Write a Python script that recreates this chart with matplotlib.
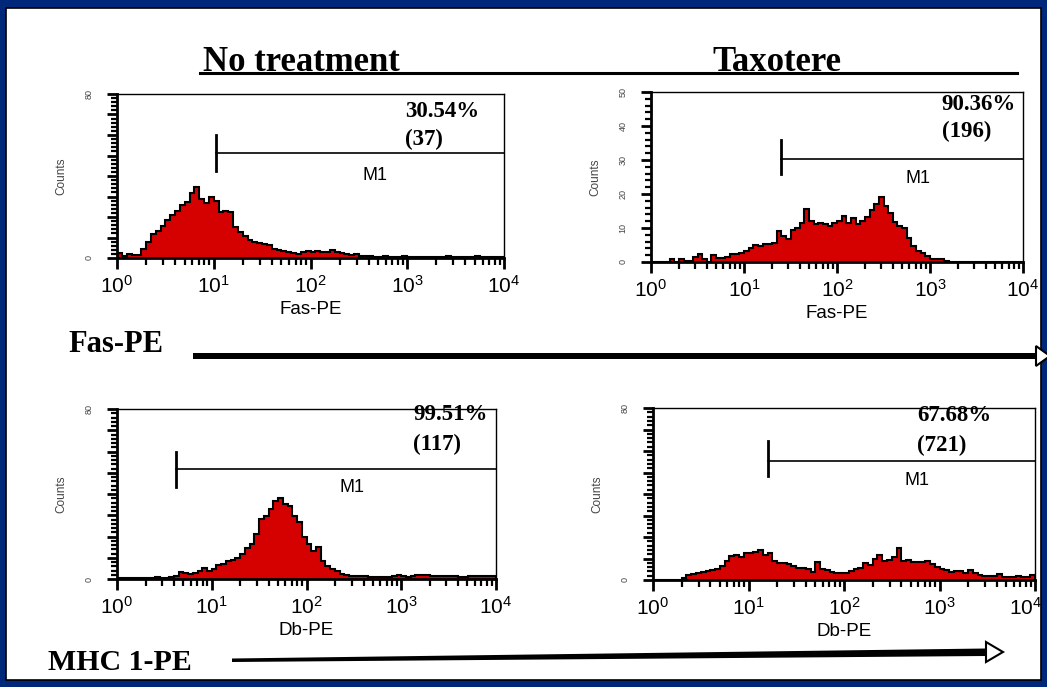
import numpy as np
import matplotlib
matplotlib.use("Agg")
import matplotlib.pyplot as plt
import matplotlib.transforms as mtransforms
from matplotlib.patches import Rectangle, Polygon
from matplotlib.lines import Line2D
from matplotlib.ticker import MultipleLocator, LogLocator, NullFormatter

plt.rcParams['font.family'] = ['Liberation Sans', 'DejaVu Sans']

# ---------------- data (counts per 0.05-decade channel, 10^0 .. 10^4) ----------------
fas_untreated = [2.4, 0.8, 2.0, 1.5, 1.5, 4.4, 8.0, 11.7, 13.3, 15.8,
                 18.7, 21.0, 23.0, 25.9, 27.5, 31.7, 34.5, 29.0, 26.8, 29.6,
                 28.0, 22.3, 22.8, 22.3, 15.0, 12.5, 10.6, 9.0, 8.0, 7.3,
                 6.8, 6.3, 4.4, 3.9, 3.6, 3.1, 2.4, 2.0, 3.1, 3.6,
                 2.8, 3.3, 2.8, 3.1, 4.0, 3.1, 2.4, 2.1, 1.6, 1.8,
                 1.1, 0.8, 0.8, 0.6, 0.5, 0.8, 0.4, 0.4, 0.4, 0.8,
                 0.4, 0.4, 0.4, 0.4, 0.4, 0.4, 0.4, 0.4, 0.8, 0.4,
                 0.4, 0.4, 0.4, 0.4, 0.8, 0.4, 0.4, 0.4, 0.4, 0.4]
fas_taxotere = [0.0, 0.0, 0.0, 0.0, 0.8, 0.0, 1.0, 0.3, 0.3, 1.5,
                2.3, 0.8, 0.1, 2.0, 1.3, 1.3, 1.5, 2.3, 2.3, 2.5,
                3.2, 4.0, 5.0, 4.7, 5.2, 5.2, 5.7, 9.1, 7.6, 6.7,
                9.3, 10.1, 11.6, 15.5, 12.0, 11.1, 11.6, 11.1, 10.6, 11.6,
                12.0, 13.5, 11.6, 13.0, 11.1, 12.0, 13.2, 15.2, 17.2, 19.2,
                16.5, 14.5, 11.9, 10.6, 10.1, 7.2, 4.7, 3.2, 2.5, 1.8,
                1.0, 0.8, 0.8, 0.3, 0.0, 0.0, 0.0, 0.0, 0.0, 0.0,
                0.0, 0.0, 0.0, 0.0, 0.0, 0.0, 0.0, 0.0, 0.0, 0.0]
mhc_untreated = [0.5, 0.5, 0.5, 0.5, 0.5, 0.5, 0.5, 0.5, 1.1, 0.3,
                 0.5, 1.1, 1.6, 3.1, 2.7, 2.4, 2.8, 3.9, 5.2, 3.9,
                 4.7, 6.7, 7.1, 8.3, 8.9, 9.7, 11.8, 14.6, 16.5, 21.2,
                 28.2, 29.8, 32.9, 36.9, 38.0, 35.3, 34.5, 29.8, 26.7, 19.6,
                 16.5, 13.3, 14.9, 8.6, 6.3, 4.7, 3.6, 2.4, 2.0, 1.6,
                 1.6, 1.6, 1.3, 1.1, 1.1, 1.1, 1.1, 1.1, 1.6, 2.0,
                 1.6, 1.1, 1.6, 2.0, 2.0, 2.0, 1.6, 1.3, 1.3, 1.3,
                 1.3, 1.3, 1.1, 1.1, 1.6, 1.6, 1.3, 1.6, 1.6, 1.6]
mhc_taxotere = [0.0, 0.0, 0.0, 0.0, 0.0, 0.0, 0.8, 2.3, 2.8, 3.4,
                3.9, 4.3, 4.7, 5.0, 6.5, 9.0, 11.2, 11.6, 10.9, 12.4,
                12.7, 13.2, 14.0, 11.6, 12.4, 9.0, 8.1, 7.8, 7.4, 6.5,
                5.4, 5.4, 5.0, 3.9, 8.5, 5.0, 4.7, 3.9, 3.1, 3.1,
                3.1, 4.3, 5.0, 5.4, 7.8, 7.0, 9.6, 11.6, 9.0, 9.3,
                10.5, 14.7, 9.0, 9.3, 8.5, 8.5, 8.5, 9.0, 7.4, 5.9,
                5.0, 4.7, 3.9, 4.3, 4.3, 3.4, 4.7, 3.4, 2.3, 1.9,
                1.9, 1.9, 2.8, 1.6, 1.6, 1.6, 1.9, 1.6, 1.2, 2.3]

gate_starts = [10.5, 25.0, 4.2, 15.9]
percents = ["30.54%", "90.36%", "99.51%", "67.68%"]
gate_counts = ["(37)", "(196)", "(117)", "(721)"]
x_labels = ["Fas-PE", "Fas-PE", "Db-PE", "Db-PE"]
y_maxes = [80, 50, 80, 80]
col_titles = ["No treatment", "Taxotere"]
row_labels = ["Fas-PE", "MHC 1-PE"]

# ---------------- figure ----------------
W, H = 1047, 687
fig = plt.figure(figsize=(W / 100, H / 100), dpi=100)
NAVY = '#00287a'
RED = '#d50000'

def fx(x):
    return x / W

def fy(y):
    return 1 - y / H

fig.patches.append(Rectangle((0, 0), 1, 1, transform=fig.transFigure,
                             facecolor=NAVY, edgecolor='none', zorder=-20))
fig.patches.append(Rectangle((fx(6), fy(680)), (1041 - 6) / W, (680 - 8) / H,
                             transform=fig.transFigure, facecolor='white',
                             edgecolor='black', linewidth=1.2, zorder=-19))

# axes rectangles in pixels: left, top, right, bottom
rects_px = [(117, 94, 504, 258), (651, 92, 1023, 262),
            (117, 409, 496, 579), (653, 408, 1035, 580)]
# layout positions for gate marker / texts (fraction of y range, log10 x)
gate_y = [0.64, 0.606, 0.647, 0.694]
bar_lo = [0.532, 0.516, 0.543, 0.605]
bar_hi = [0.75, 0.718, 0.749, 0.81]
m1_pos = [(2.67, 0.50), (2.87, 0.494), (2.48, 0.54), (2.76, 0.58)]
txt_x = [2.977, 3.126, 3.127, 2.768]
pct_y = [0.892, 0.924, 0.965, 0.959]
n_y = [0.72, 0.766, 0.789, 0.785]

edges = 10 ** (np.arange(81) * 0.05)
hists = [fas_untreated, fas_taxotere, mhc_untreated, mhc_taxotere]

for i, (l, t, r, b) in enumerate(rects_px):
    ax = fig.add_axes([fx(l), fy(b), (r - l) / W, (b - t) / H])
    ymax = y_maxes[i]
    ax.set_xscale('log')
    ax.set_xlim(1, 1e4)
    ax.set_ylim(0, ymax)
    ax.stairs(hists[i], edges, fill=True, color=RED, zorder=2)
    ax.stairs(hists[i], edges, color='black', linewidth=1.5, zorder=3)

    # gate marker
    g0 = gate_starts[i]
    ax.plot([g0, 1e4], [gate_y[i] * ymax] * 2, color='black', lw=1.2,
            clip_on=False, zorder=4)
    ax.plot([g0, g0], [bar_lo[i] * ymax, bar_hi[i] * ymax], color='black',
            lw=2.0, clip_on=False, zorder=4)
    ax.text(10 ** m1_pos[i][0], m1_pos[i][1] * ymax, "M1", fontsize=13,
            ha='center', va='center', zorder=5)
    ax.text(10 ** txt_x[i], pct_y[i] * ymax, percents[i], fontsize=16.5,
            fontweight='bold', family='Liberation Serif', ha='left',
            va='center', clip_on=False, zorder=6)
    ax.text(10 ** txt_x[i], n_y[i] * ymax, gate_counts[i], fontsize=16.5,
            fontweight='bold', family='Liberation Serif', ha='left',
            va='center', clip_on=False, zorder=6)

    # spines
    for s in ['top', 'right']:
        ax.spines[s].set_linewidth(1.0)
    for s in ['left', 'bottom']:
        ax.spines[s].set_linewidth(2.0)

    # x axis
    ax.xaxis.set_major_locator(LogLocator(base=10, numticks=10))
    ax.xaxis.set_minor_locator(LogLocator(base=10, subs=np.arange(2, 10), numticks=10))
    ax.xaxis.set_minor_formatter(NullFormatter())
    ax.tick_params(axis='x', which='major', length=8, width=2, labelsize=15, pad=4)
    ax.tick_params(axis='x', which='minor', length=5, width=1.6)
    ax.set_xlabel(x_labels[i], fontsize=13.5, labelpad=3)

    # y axis
    ax.yaxis.set_minor_locator(MultipleLocator(2))
    ticks = np.arange(0, ymax + 1, 10)
    if ymax == 50:
        labels = [str(int(v)) for v in ticks]
    else:
        labels = [str(int(v)) if v in (0, ymax) else '' for v in ticks]
    ax.set_yticks(ticks)
    ax.set_yticklabels(labels)
    ax.tick_params(axis='y', which='major', length=7, width=2, labelsize=6.5,
                   labelrotation=90, pad=10, labelcolor='#444444')
    ax.tick_params(axis='y', which='minor', length=4, width=1.6)
    for lab in ax.get_yticklabels():
        lab.set_va('center')
    ax.set_ylabel("Counts", fontsize=8.5, color='#444444', labelpad=12)

    # keep the right-most decade label of the rightmost panel inside the frame
    if r > 1030:
        fig.canvas.draw()
        shift = mtransforms.ScaledTranslation(-9 / 100, 0, fig.dpi_scale_trans)
        for tk in ax.xaxis.get_major_ticks():
            if abs(tk.get_loc() - 1e4) < 1:
                tk.label1.set_transform(tk.label1.get_transform() + shift)

# column titles with underline
fig.text(fx(203), fy(71), col_titles[0], fontsize=25, fontweight='bold',
         family='Liberation Serif', ha='left', va='baseline')
fig.text(fx(712), fy(71), col_titles[1], fontsize=25, fontweight='bold',
         family='Liberation Serif', ha='left', va='baseline')
fig.add_artist(Line2D([fx(200), fx(1017)], [fy(73), fy(73)], color='black', lw=2.2))

# row labels
fig.text(fx(68), fy(344), row_labels[0], fontsize=22, fontweight='bold',
         family='Liberation Serif', ha='left', va='center')
fig.text(fx(48), fy(662), row_labels[1], fontsize=21.5, fontweight='bold',
         family='Liberation Serif', ha='left', va='center')

# arrows
fig.add_artist(Polygon([(fx(193), fy(353)), (fx(1036), fy(353)),
                        (fx(1036), fy(359)), (fx(193), fy(359))],
                       closed=True, facecolor='black', edgecolor='none'))
fig.add_artist(Polygon([(fx(1036), fy(346)), (fx(1050), fy(356)), (fx(1036), fy(366))],
                       closed=True, facecolor='white', edgecolor='black', lw=1.5))
fig.add_artist(Polygon([(fx(232), fy(658.5)), (fx(986), fy(648.5)),
                        (fx(986), fy(656)), (fx(232), fy(662))],
                       closed=True, facecolor='black', edgecolor='none'))
fig.add_artist(Polygon([(fx(986), fy(642)), (fx(1003), fy(652)), (fx(986), fy(662))],
                       closed=True, facecolor='white', edgecolor='black', lw=1.5))

fig.savefig("out.png", dpi=100)
